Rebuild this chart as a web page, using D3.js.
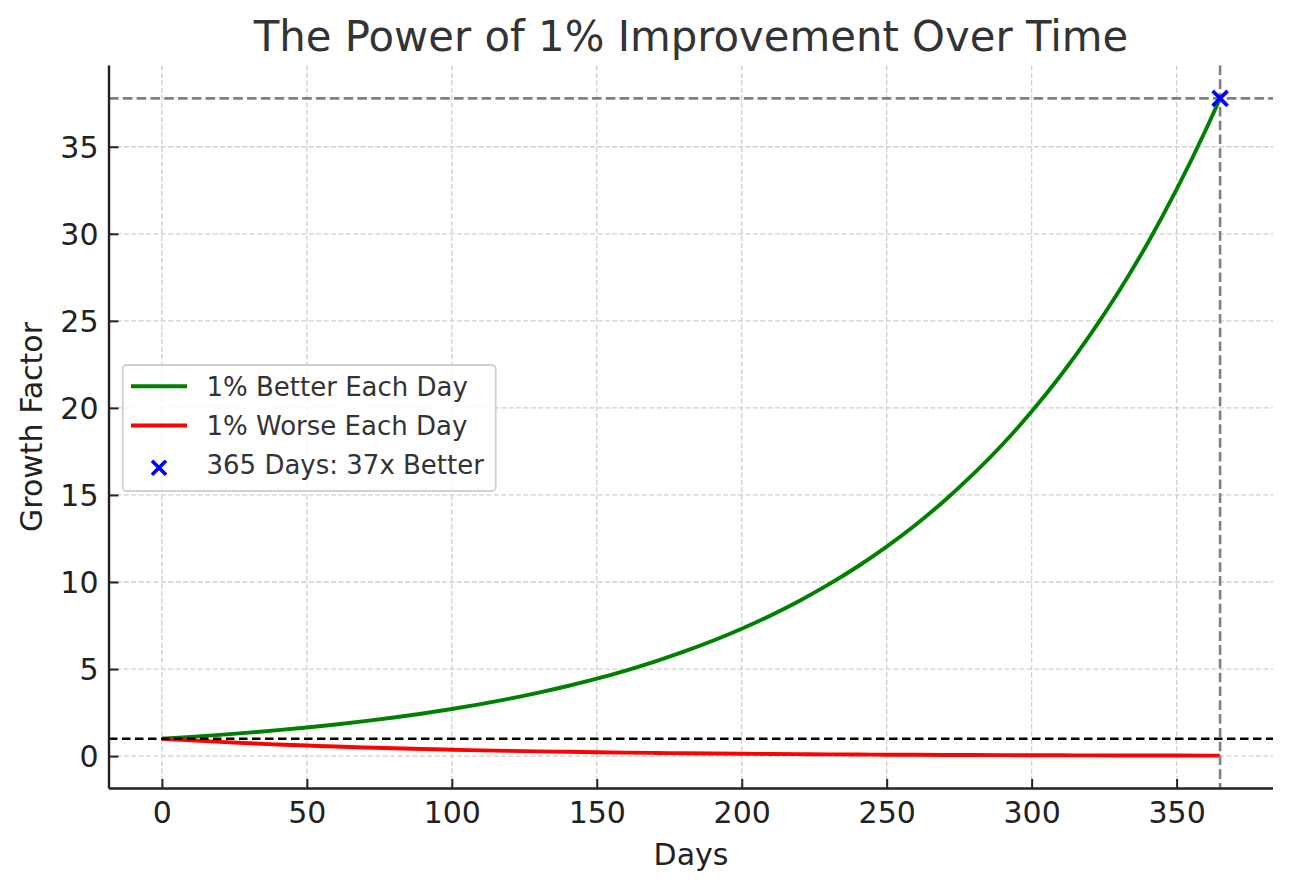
<!DOCTYPE html>
<html>
<head>
<meta charset="utf-8">
<script src="https://cdn.jsdelivr.net/npm/d3@7"></script>
<style>
  html, body { margin: 0; padding: 0; background: #fff; }
  svg { display: block; font-family: "DejaVu Sans", sans-serif; }
</style>
</head>
<body>
<svg id="chart" width="1292" height="889"></svg>
<script>
// ---- Data ----
const days = [0,10,20,30,40,50,60,70,80,90,100,110,120,130,140,150,160,170,180,190,200,210,220,230,240,250,260,270,280,290,300,310,320,330,340,350,360,365];
const betterValues = [1.00,1.105,1.22,1.348,1.489,1.645,1.817,2.007,2.217,2.449,2.705,2.988,3.30,3.646,4.027,4.448,4.914,5.428,5.996,6.623,7.316,8.081,8.927,9.861,10.89,12.03,13.29,14.68,16.22,17.91,19.79,21.86,24.15,26.67,29.46,32.55,35.95,37.78];
const worseValues = [1.00,0.904,0.818,0.740,0.669,0.605,0.547,0.495,0.448,0.405,0.366,0.331,0.299,0.271,0.245,0.221,0.200,0.181,0.164,0.148,0.134,0.121,0.110,0.099,0.090,0.081,0.073,0.066,0.060,0.054,0.049,0.044,0.040,0.036,0.033,0.030,0.027,0.026];
const finalPoint = { day: 365, value: 37.78 };
const baseline = 1;
const xTicks = [0,50,100,150,200,250,300,350];
const yTicks = [0,5,10,15,20,25,30,35];
const legendLabels = ["1% Better Each Day", "1% Worse Each Day", "365 Days: 37x Better"];
const titleText = "The Power of 1% Improvement Over Time";
const xLabel = "Days";
const yLabel = "Growth Factor";

// ---- Layout ----
const L = 109, R = 1273, T = 65.5, B = 788.5;
const svg = d3.select("#chart");

const xMin = d3.min(days), xMax = d3.max(days);
const xPad = (xMax - xMin) * 0.05;
const yMinD = d3.min(worseValues), yMaxD = d3.max(betterValues);
const yPad = (yMaxD - yMinD) * 0.05;

const x = d3.scaleLinear().domain([xMin - xPad, xMax + xPad]).range([L, R]);
const y = d3.scaleLinear().domain([yMinD - yPad, yMaxD + yPad]).range([B, T]);

// grid
const grid = svg.append("g");
grid.selectAll("line.vx").data(xTicks).join("line")
  .attr("x1", d => x(d)).attr("x2", d => x(d)).attr("y1", T).attr("y2", B)
  .attr("stroke", "#cfcfcf").attr("stroke-width", 1.3).attr("stroke-dasharray", "5,2.4");
grid.selectAll("line.hy").data(yTicks).join("line")
  .attr("x1", L).attr("x2", R).attr("y1", d => y(d)).attr("y2", d => y(d))
  .attr("stroke", "#cfcfcf").attr("stroke-width", 1.3).attr("stroke-dasharray", "5,2.4");

// lines
const lineGen = vals => d3.line()
  .x((d, i) => x(days[i])).y(d => y(d)).curve(d3.curveMonotoneX)(vals);

svg.append("path").attr("d", lineGen(betterValues))
  .attr("fill", "none").attr("stroke", "#008000").attr("stroke-width", 3.9);
svg.append("path").attr("d", lineGen(worseValues))
  .attr("fill", "none").attr("stroke", "#ff0000").attr("stroke-width", 3.9);

// reference lines
svg.append("line").attr("x1", L).attr("x2", R).attr("y1", y(baseline)).attr("y2", y(baseline))
  .attr("stroke", "#000").attr("stroke-width", 2.4).attr("stroke-dasharray", "8.5,4.5");
svg.append("line").attr("x1", L).attr("x2", R).attr("y1", y(finalPoint.value)).attr("y2", y(finalPoint.value))
  .attr("stroke", "#808080").attr("stroke-width", 2.6).attr("stroke-dasharray", "9.6,4.2");
svg.append("line").attr("x1", x(finalPoint.day)).attr("x2", x(finalPoint.day)).attr("y1", T).attr("y2", B)
  .attr("stroke", "#808080").attr("stroke-width", 2.6).attr("stroke-dasharray", "9.6,4.2");

// marker
function drawX(g, cx, cy, s) {
  g.append("path")
    .attr("d", `M${cx - s},${cy - s}L${cx + s},${cy + s}M${cx - s},${cy + s}L${cx + s},${cy - s}`)
    .attr("stroke", "#0000ff").attr("stroke-width", 3.6).attr("fill", "none");
}
drawX(svg, x(finalPoint.day), y(finalPoint.value), 7.5);

// axes (spines left & bottom, ticks inward)
const xAxis = svg.append("g").attr("transform", `translate(0,${B})`)
  .call(d3.axisBottom(x).tickValues(xTicks).tickSize(-9.5).tickPadding(0).tickFormat(d3.format("d")));
const yAxis = svg.append("g").attr("transform", `translate(${L},0)`)
  .call(d3.axisLeft(y).tickValues(yTicks).tickSize(-9.5).tickPadding(0).tickFormat(d3.format("d")));

[xAxis, yAxis].forEach(a => {
  a.select(".domain").attr("stroke", "#222").attr("stroke-width", 2.4);
  a.selectAll(".tick line").attr("stroke", "#222").attr("stroke-width", 2);
  a.selectAll(".tick text").attr("fill", "#222").attr("font-size", 30)
    .attr("font-family", "DejaVu Sans, sans-serif");
});
xAxis.select(".domain").attr("d", `M${L},0H${R}`);
yAxis.select(".domain").attr("d", `M0,${B}V${T}`);
xAxis.selectAll(".tick text").attr("y", 34.5).attr("dy", 0);
yAxis.selectAll(".tick text").attr("x", -10.5).attr("dy", "0.36em");

// labels
svg.append("text").attr("x", (L + R) / 2).attr("y", 865)
  .attr("text-anchor", "middle").attr("font-size", 30).attr("fill", "#222").text(xLabel);
svg.append("text").attr("transform", `translate(42,${(T + B) / 2}) rotate(-90)`)
  .attr("text-anchor", "middle").attr("font-size", 30).attr("fill", "#222").text(yLabel);
svg.append("text").attr("x", (L + R) / 2).attr("y", 51)
  .attr("text-anchor", "middle").attr("font-size", 41.8).attr("fill", "#333").text(titleText);

// legend
const lg = svg.append("g");
lg.append("rect").attr("x", 122.7).attr("y", 365).attr("width", 373).attr("height", 126)
  .attr("rx", 4).attr("fill", "#fff").attr("fill-opacity", 0.8)
  .attr("stroke", "#d0d0d0").attr("stroke-width", 1.8);
const rowBase = [395.7, 435, 474.3];
const handleColors = ["#008000", "#ff0000"];
handleColors.forEach((c, i) => {
  lg.append("line").attr("x1", 131).attr("x2", 187).attr("y1", rowBase[i] - 9.5).attr("y2", rowBase[i] - 9.5)
    .attr("stroke", c).attr("stroke-width", 3.9);
});
drawX(lg, 159, rowBase[2] - 6.5, 7);
legendLabels.forEach((t, i) => {
  lg.append("text").attr("x", 206.5).attr("y", rowBase[i]).attr("font-size", 26)
    .attr("fill", "#333").text(t);
});
</script>
</body>
</html>
